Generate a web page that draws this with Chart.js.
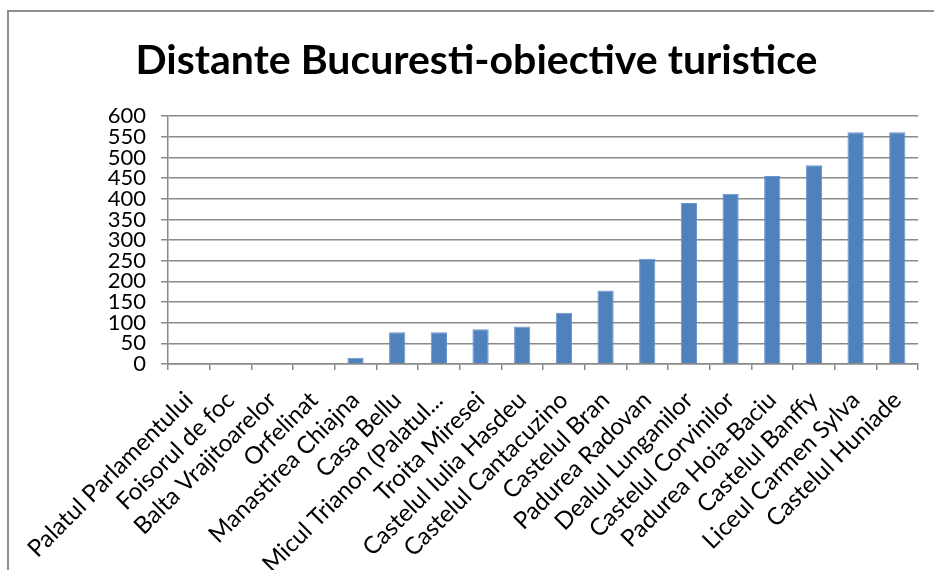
<!DOCTYPE html>
<html>
<head>
<meta charset="utf-8">
<script src="https://cdn.jsdelivr.net/npm/chart.js@4"></script>
<style>
  body { margin: 0; background: #fff; }
  #wrap { position: relative; width: 934px; height: 570px; overflow: hidden; }
  #frame { position: absolute; left: 7px; top: 10px; width: 940px; height: 600px;
           border-left: 2px solid #8f8f8f; border-top: 2px solid #8f8f8f; }
  canvas { position: absolute; left: 0; top: 0; }
</style>
</head>
<body>
<div id="wrap">
  <div id="frame"></div>
  <canvas id="distChart" width="934" height="570"></canvas>
</div>
<script>
const titleText = 'Distante Bucuresti-obiective turistice';

const places = [
  'Palatul Parlamentului', 'Foisorul de foc', 'Balta Vrajitoarelor', 'Orfelinat',
  'Manastirea Chiajna', 'Casa Bellu', 'Micul Trianon (Palatul...', 'Troita Miresei',
  'Castelul Iulia Hasdeu', 'Castelul Cantacuzino', 'Castelul Bran', 'Padurea Radovan',
  'Dealul Lunganilor', 'Castelul Corvinilor', 'Padurea Hoia-Baciu', 'Castelul Banffy',
  'Liceul Carmen Sylva', 'Castelul Huniade'
];

const distances = [0, 0, 0, 0, 15, 77, 77, 84, 91, 124, 178, 255, 390, 412, 455, 481, 561, 561];

const yTicks = [0, 50, 100, 150, 200, 250, 300, 350, 400, 450, 500, 550, 600];

const gridGray = '#8a8a8a';

const ctx = document.getElementById('distChart').getContext('2d');

new Chart(ctx, {
  type: 'bar',
  data: {
    labels: places,
    datasets: [{
      label: 'Distanta',
      data: distances,
      backgroundColor: '#4f81bd',
      borderColor: '#6a96cc',
      borderWidth: 1,
      barPercentage: 0.78,
      categoryPercentage: 0.5,
    }],
  },
  options: {
    responsive: false,
    animation: false,
    layout: { padding: { left: 32, right: 13, top: 36, bottom: 0 } },
    plugins: {
      legend: { display: false },
      tooltip: { enabled: false },
      title: {
        display: true,
        text: titleText,
        color: '#000',
        font: { family: 'Lato', size: 41, weight: 'bold' },
        padding: { top: 0, bottom: 31 },
      },
    },
    scales: {
      x: {
        grid: { drawOnChartArea: false, drawTicks: true, tickLength: 6, color: gridGray, lineWidth: 1.5, offset: true },
        border: { color: gridGray, width: 1.5 },
        ticks: {
          color: '#000',
          font: { family: 'Lato', size: 24 },
          maxRotation: 45,
          minRotation: 45,
          autoSkip: false,
          padding: 16,
        },
        afterFit: (scale) => { scale.height = 206; },
      },
      y: {
        min: 0,
        max: 600,
        afterBuildTicks: (scale) => { scale.ticks = yTicks.map(v => ({ value: v })); },
        grid: { color: gridGray, lineWidth: 1.5, tickLength: 7 },
        border: { color: gridGray, width: 1.5 },
        ticks: {
          color: '#000',
          font: { family: 'Lato', size: 22 },
          padding: 15,
          autoSkip: false,
        },
        afterFit: (scale) => { scale.width = 136; },
      },
    },
  },
});
</script>
</body>
</html>
